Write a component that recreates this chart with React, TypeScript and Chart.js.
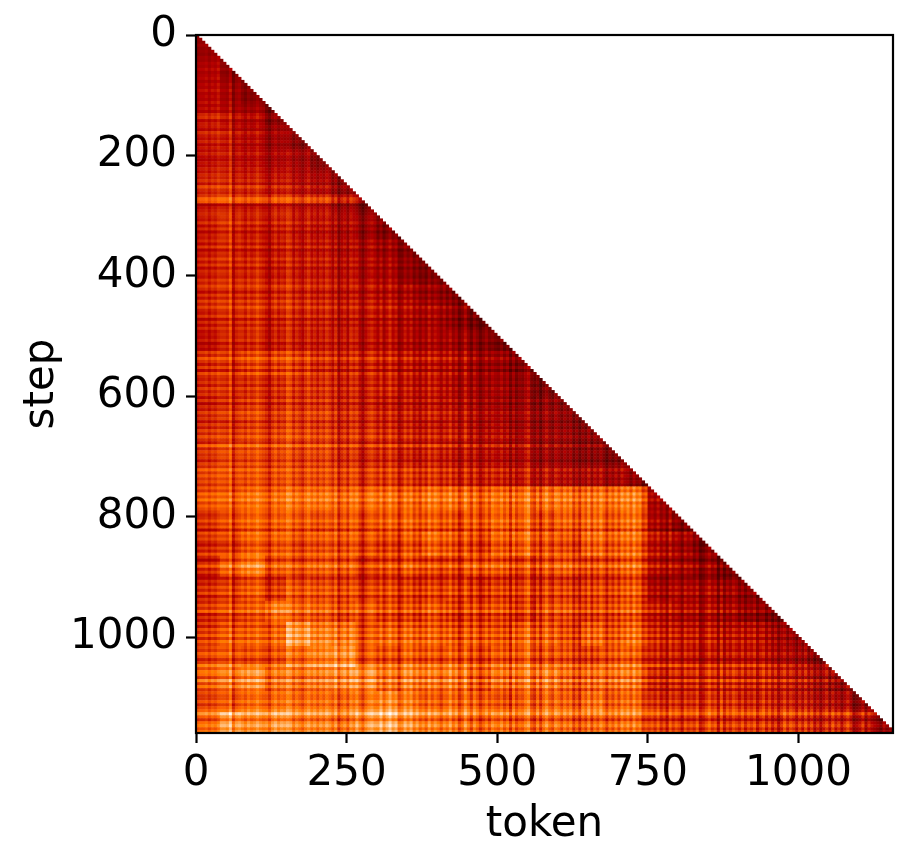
import React, { useEffect, useRef } from "react";
import { Chart, registerables } from "chart.js";

Chart.register(...registerables);

const xTicksStep = 250;
const yTicksStep = 200;
const tokenCount = 1157;
const stepCount = 1159;
const fineStep = 5;
const coarseStep = 37.5;

// Mean intensity (percent of colour scale) of each 37.5-token block
const blockLevels: number[][] = [
  [42],
  [48, 38],
  [50, 44, 36],
  [52, 48, 44, 36],
  [54, 52, 48, 44, 36],
  [53, 53, 50, 48, 44, 36],
  [57, 56, 54, 53, 48, 45, 38],
  [57, 58, 55, 57, 53, 52, 46, 38],
  [55, 58, 54, 55, 52, 50, 47, 42, 36],
  [55, 57, 54, 54, 52, 51, 48, 46, 42, 36],
  [57, 58, 57, 55, 54, 53, 51, 48, 46, 40, 34],
  [57, 58, 57, 57, 55, 53, 51, 50, 48, 46, 40, 34],
  [55, 57, 57, 55, 54, 53, 51, 50, 49, 47, 44, 38, 32],
  [53, 57, 57, 55, 54, 53, 53, 51, 50, 48, 46, 44, 40, 32],
  [57, 57, 60, 60, 58, 54, 53, 53, 51, 50, 48, 46, 42, 38, 34],
  [57, 57, 57, 57, 57, 56, 54, 53, 53, 51, 50, 46, 44, 42, 38, 32],
  [55, 57, 59, 57, 57, 57, 54, 53, 51, 51, 50, 48, 46, 42, 40, 38, 34],
  [58, 58, 60, 60, 60, 58, 56, 56, 54, 53, 51, 51, 48, 46, 42, 40, 38, 34],
  [60, 63, 63, 63, 61, 61, 58, 56, 56, 54, 54, 51, 51, 48, 46, 42, 40, 36, 34],
  [62, 63, 63, 63, 61, 61, 60, 58, 58, 58, 56, 54, 54, 52, 50, 48, 46, 44, 42, 36],
  [66, 67, 70, 70, 70, 70, 69, 69, 69, 69, 70, 70, 69, 69, 69, 70, 70, 69, 70, 72, 42],
  [60, 64, 68, 68, 66, 64, 66, 64, 66, 68, 66, 64, 67, 68, 67, 64, 67, 68, 66, 70, 44, 36],
  [58, 60, 66, 66, 62, 63, 64, 62, 60, 64, 66, 63, 62, 65, 66, 63, 62, 66, 65, 68, 47, 43, 36],
  [58, 68, 74, 67, 64, 66, 66, 60, 62, 66, 62, 62, 67, 65, 62, 64, 66, 62, 64, 68, 47, 45, 41, 34],
  [55, 58, 62, 58, 61, 60, 60, 57, 58, 58, 57, 58, 57, 57, 57, 57, 57, 57, 58, 62, 41, 43, 43, 40, 34],
  [62, 65, 67, 76, 70, 68, 66, 67, 64, 65, 66, 62, 65, 64, 61, 65, 65, 62, 64, 67, 52, 49, 49, 47, 42, 36],
  [60, 65, 65, 68, 78, 72, 72, 64, 66, 67, 65, 63, 65, 62, 65, 65, 61, 65, 63, 68, 52, 51, 51, 49, 49, 44, 38],
  [66, 68, 66, 68, 72, 76, 80, 68, 66, 70, 66, 68, 66, 67, 68, 66, 65, 62, 67, 68, 55, 55, 54, 54, 54, 51, 47, 40],
  [66, 70, 74, 70, 68, 70, 74, 74, 68, 72, 68, 70, 65, 67, 68, 70, 65, 65, 67, 68, 50, 52, 54, 54, 52, 52, 49, 45, 38],
  [62, 65, 68, 70, 68, 68, 68, 70, 74, 72, 65, 68, 67, 63, 65, 67, 65, 68, 65, 67, 54, 55, 57, 57, 54, 54, 52, 49, 45, 38],
  [68, 78, 74, 78, 72, 72, 70, 76, 80, 76, 70, 70, 68, 68, 66, 68, 66, 65, 66, 68, 57, 57, 59, 57, 57, 55, 57, 54, 54, 49, 36],
];

// Horizontal streaks, one string per 100 steps, one character per 5 steps ('w' marks a nearly white line)
const rowStreaks: string[] = [
  "45464546354645635464",
  "54635378465375463546",
  "43546354638546w90345",
  "54736254637254736254",
  "36475263748547263645",
  "46253749637285463746",
  "37264857263748529364",
  "52638474635274836453",
  "47360857426384059362",
  "26485937263804162748",
  "38542640394872w38264",
  "47368w51684739261847",
];

// Vertical streaks, one string per 100 tokens, one character per 5 tokens
const colStreaks: string[] = [
  "34453546554804553645",
  "75430463548736425746",
  "36475370462757304675",
  "37258460374725163847",
  "52648360385174036275",
  "47360725479316058427",
  "63747150638274851637",
  "38573846025748361847",
  "51746370258460816375",
  "37264715837260483751",
  "62737150472836158402",
  "48163752846038175264",
];

const streakAt = (table: string[], index: number): number => {
  const line = table[Math.floor(index / 20)] ?? "";
  const ch = line.charAt(index % 20);
  if (ch === "w") return 0.13;
  return ch ? (Number(ch) - 4.5) * 0.023 : 0;
};

const heatColour = (x: number): string => {
  const v = Math.max(0.22, Math.min(1, x));
  const r = Math.min(1, v / 0.7);
  const g = Math.max(0, Math.min(1, 2 * v - 1));
  const b = Math.max(0, Math.min(1, 4 * v - 3));
  return `rgb(${Math.round(r * 255)},${Math.round(g * 255)},${Math.round(b * 255)})`;
};

const cellPoints: { x: number; y: number }[] = [];
const cellColours: string[] = [];
for (let row = 0; row * fineStep < stepCount; row++) {
  for (let col = 0; col <= row && col * fineStep < tokenCount; col++) {
    const by = Math.min(blockLevels.length - 1, Math.floor((row * fineStep) / coarseStep));
    const line = blockLevels[by];
    const bx = Math.min(line.length - 1, Math.floor((col * fineStep) / coarseStep));
    const level = line[bx] / 100 + streakAt(rowStreaks, row) + streakAt(colStreaks, col);
    cellPoints.push({ x: (col + 0.5) * fineStep, y: (row + 0.5) * fineStep });
    cellColours.push(heatColour(level));
  }
}

const AXIS_FONT = { family: "'DejaVu Sans'", size: 42 };
const LINE = 2.2;
const plainTick = (v: number | string) => String(v);

export default function App() {
  const ref = useRef<HTMLCanvasElement>(null);
  useEffect(() => {
    document.body.style.margin = "0";
    const frame = {
      id: "frame",
      afterDraw(chart: any) {
        const { ctx, chartArea: a } = chart;
        ctx.save();
        ctx.strokeStyle = "#000";
        ctx.lineWidth = LINE;
        ctx.strokeRect(a.left, a.top, a.right - a.left, a.bottom - a.top);
        ctx.restore();
      },
    };
    const chart = new Chart(ref.current as HTMLCanvasElement, {
      type: "scatter",
      data: {
        datasets: [
          {
            data: cellPoints,
            pointStyle: "rect",
            pointRadius: 2.5,
            pointBorderWidth: 0,
            pointBackgroundColor: cellColours,
            pointHoverRadius: 2.5,
          } as any,
        ],
      },
      plugins: [frame],
      options: {
        animation: false,
        responsive: false,
        events: [],
        parsing: false,
        normalized: true,
        layout: { autoPadding: false, padding: { left: 0, right: 21, top: 35, bottom: 0 } },
        plugins: { legend: { display: false }, tooltip: { enabled: false }, title: { display: false } },
        scales: {
          x: {
            type: "linear",
            min: 0,
            max: tokenCount,
            afterFit(s: any) {
              s.height = 130;
            },
            grid: { drawOnChartArea: false, drawTicks: true, tickLength: 10, tickWidth: LINE, tickColor: "#000" },
            border: { display: false },
            ticks: {
              stepSize: xTicksStep,
              includeBounds: false,
              maxRotation: 0,
              autoSkip: false,
              padding: 6,
              color: "#000",
              font: AXIS_FONT,
              callback: plainTick,
            },
            title: { display: true, text: "token", color: "#000", font: AXIS_FONT, padding: { top: 0, bottom: 13 } },
          },
          y: {
            type: "linear",
            reverse: true,
            min: 0,
            max: stepCount,
            afterFit(s: any) {
              s.width = 196;
            },
            grid: { drawOnChartArea: false, drawTicks: true, tickLength: 10, tickWidth: LINE, tickColor: "#000" },
            border: { display: false },
            ticks: {
              stepSize: yTicksStep,
              includeBounds: false,
              maxRotation: 0,
              autoSkip: false,
              padding: 9,
              color: "#000",
              font: AXIS_FONT,
              callback: plainTick,
            },
            title: { display: true, text: "step", color: "#000", font: AXIS_FONT, padding: { top: 17, bottom: 0 } },
          },
        },
      } as any,
    });
    return () => chart.destroy();
  }, []);
  return (
    <div style={{ width: 914, height: 863, background: "#fff" }}>
      <canvas ref={ref} width={914} height={863} style={{ display: "block" }} />
    </div>
  );
}
